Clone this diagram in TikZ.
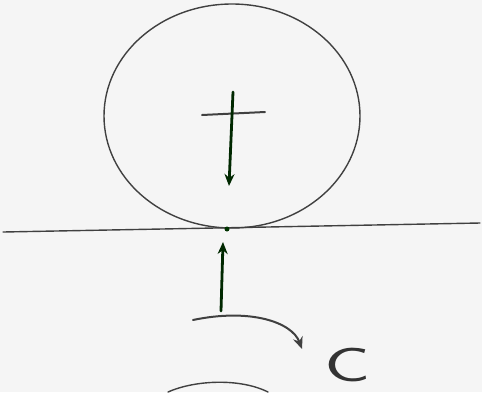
\documentclass[tikz,border=0pt]{standalone}
\usepackage{graphicx}
\usetikzlibrary{arrows.meta,shapes.geometric}
\begin{document}
\begin{tikzpicture}[x=1pt,y=-1pt,
  pen/.style={draw=black!75, line width=1.4pt, line cap=round, line join=round},
  thick pen/.style={draw=black!65!green!45!black, line width=2.8pt, line cap=round},
  tip/.style={-{Stealth[length=12pt,width=10pt]}}]
\useasboundingbox[fill=gray!8] (0,0) rectangle (482,392);
% wheel
\node[pen, ellipse, minimum width=256pt, minimum height=224pt, inner sep=0pt] (wheel) at (232,116) {};
% ground line
\coordinate (gl) at (3,232);
\coordinate (gr) at (480,223);
\draw[pen] (gl) -- (gr);
% contact point
\coordinate (cp) at (227,229);
\fill[black!60!green!50!black] (cp) circle (2.5pt);
% centre cross
\coordinate (hl) at (202,115);
\coordinate (hr) at (265,112);
\coordinate (vt) at (233,92);
\coordinate (vb) at (229,186);
\draw[pen, line width=2pt] (hl) -- (hr);
\draw[thick pen, tip] (vt) -- (vb);
% upward arrow
\coordinate (ub) at (221,311);
\coordinate (ut) at (223,242);
\draw[thick pen, tip] (ub) -- (ut);
% curved arrow
\coordinate (ca) at (193,320);
\coordinate (cb) at (302,349);
\draw[pen, line width=2pt, tip] (ca) .. controls (250,308) and (292,322) .. (cb);
% letter
\node[text=black!80, font=\fontsize{48}{48}\selectfont\sffamily, inner sep=0pt, text depth=0pt, anchor=base] (lbl) at (348,381) {\scalebox{1.6}[1]{C}};
% partial circle at bottom
\coordinate (bl) at (168,392);
\coordinate (br) at (268,392);
\draw[pen] (bl) .. controls (195,380) and (240,378) .. (br);
\end{tikzpicture}
\end{document}
